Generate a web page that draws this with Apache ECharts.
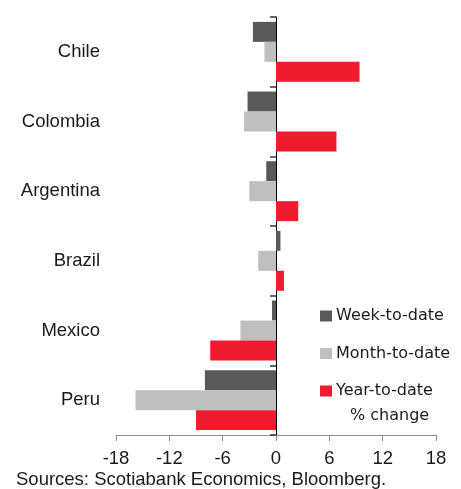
<!DOCTYPE html>
<html>
<head>
<meta charset="utf-8">
<script src="https://cdn.jsdelivr.net/npm/echarts@6/dist/echarts.min.js"></script>
<style>
  html, body { margin: 0; padding: 0; background: #fff; }
  #chart { width: 461px; height: 489px; }
</style>
</head>
<body>
<div id="chart"></div>
<script>
// Latin American markets, % change
const countries = ['Chile', 'Colombia', 'Argentina', 'Brazil', 'Mexico', 'Peru'];
const weekToDate = [-2.6, -3.2, -1.1, 0.5, -0.45, -8.0];
const monthToDate = [-1.3, -3.6, -3.0, -2.0, -4.0, -15.8];
const yearToDate = [9.4, 6.8, 2.5, 0.9, -7.4, -9.0];
const xTicks = { min: -18, max: 18, step: 6 };
const sourceNote = 'Sources: Scotiabank Economics, Bloomberg.';
const unitNote = '% change';

const FONT = '"Liberation Sans", Arial, sans-serif';
const LEGEND_FONT = '"DejaVu Sans", sans-serif';
const TEXT = '#1a1a1a';

const chart = echarts.init(document.getElementById('chart'), null, { renderer: 'canvas' });

const barSeries = (name, data, color) => ({
  name: name,
  type: 'bar',
  data: data,
  yAxisIndex: 0,
  barGap: '0%',
  barCategoryGap: '14%',
  itemStyle: { color: color },
  emphasis: { disabled: true }
});

chart.setOption({
  animation: false,
  grid: { left: 116, right: 25, top: 17, bottom: 54, containLabel: false },
  xAxis: {
    type: 'value',
    min: xTicks.min,
    max: xTicks.max,
    interval: xTicks.step,
    splitLine: { show: false },
    axisLine: { show: true, lineStyle: { color: '#8c8c8c', width: 1 } },
    axisTick: { show: true, length: 6, lineStyle: { color: '#8c8c8c' } },
    axisLabel: { color: TEXT, fontFamily: FONT, fontSize: 18.5, margin: 14 }
  },
  yAxis: [
    {
      // category labels along the left edge of the plot
      type: 'category',
      data: countries,
      inverse: true,
      axisLine: { show: false, onZero: false },
      axisTick: { show: false },
      axisLabel: { color: TEXT, fontFamily: FONT, fontSize: 18.5, margin: 16 }
    },
    {
      // zero line with category dividers
      type: 'category',
      data: countries,
      inverse: true,
      position: 'left',
      axisLine: { show: true, onZero: true, lineStyle: { color: '#000', width: 1 } },
      axisTick: { show: true, length: 6, lineStyle: { color: '#333', width: 1.5 } },
      axisLabel: { show: false }
    }
  ],
  legend: {
    orient: 'vertical',
    left: 320,
    top: 306,
    padding: 0,
    itemWidth: 12,
    itemHeight: 11,
    itemGap: 17.5,
    icon: 'rect',
    textStyle: { color: TEXT, fontFamily: LEGEND_FONT, fontSize: 16, lineHeight: 20, padding: [0, 0, 0, -1] },
    data: ['Week-to-date', 'Month-to-date', 'Year-to-date']
  },
  graphic: [
    {
      type: 'text',
      left: 350,
      top: 406,
      style: { text: unitNote, fill: TEXT, font: '16px ' + LEGEND_FONT, lineHeight: 20 }
    },
    {
      type: 'text',
      left: 16,
      top: 470,
      style: { text: sourceNote, fill: TEXT, font: '18.5px ' + FONT }
    }
  ],
  series: [
    barSeries('Week-to-date', weekToDate, '#595959'),
    barSeries('Month-to-date', monthToDate, '#bfbfbf'),
    barSeries('Year-to-date', yearToDate, '#ed1c2e')
  ]
});
</script>
</body>
</html>
